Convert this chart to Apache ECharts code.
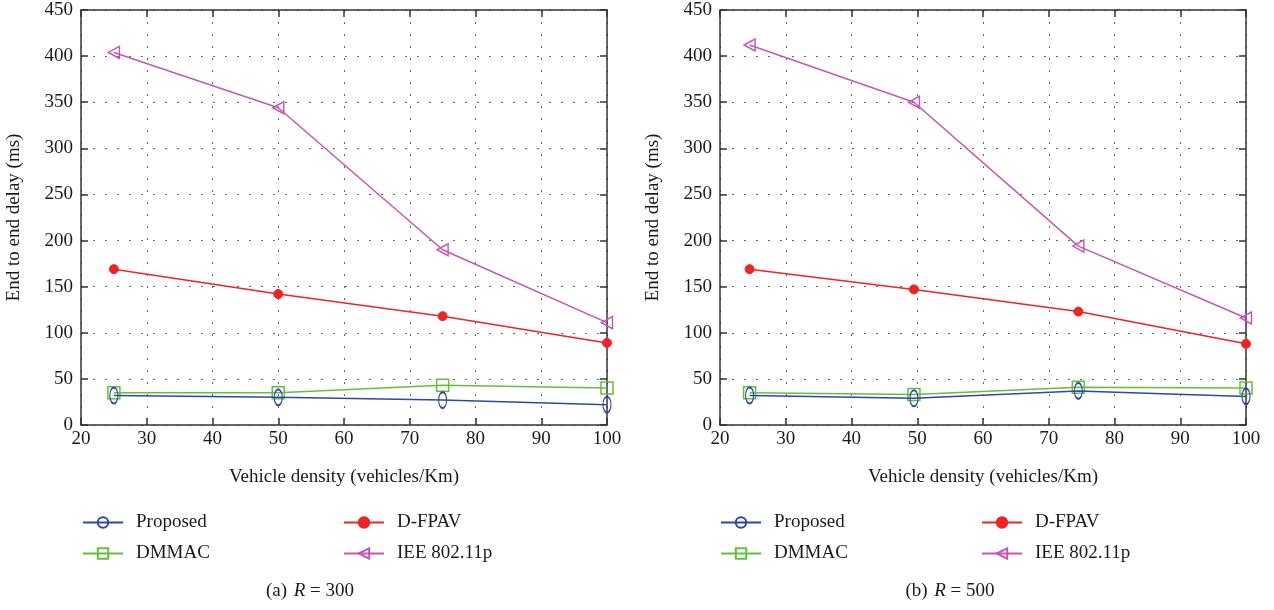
<!DOCTYPE html>
<html>
<head>
<meta charset="utf-8">
<script src="https://cdn.jsdelivr.net/npm/echarts@6/dist/echarts.min.js"></script>
<style>html,body{margin:0;padding:0;background:#fff;}#c{width:1274px;height:610px;}</style>
</head>
<body>
<div id="c"></div>
<script>
const seriesNames = ['Proposed', 'D-FPAV', 'DMMAC', 'IEE 802.11p'];
const xTicks = [20, 30, 40, 50, 60, 70, 80, 90, 100];
const yTicks = [0, 50, 100, 150, 200, 250, 300, 350, 400, 450];

// (a) R = 300
const xA = [25, 50, 75, 100];
const proposedA = [32, 30, 27, 22];
const dmmacA = [35, 35, 43, 40];
const dfpavA = [169, 142, 118, 89];
const ieeeA = [404, 344, 190, 111];

// (b) R = 500
const xB = [24.5, 49.5, 74.5, 100];
const proposedB = [32, 29, 37, 31];
const dmmacB = [35, 33, 41, 40];
const dfpavB = [169, 147, 123, 88];
const ieeeB = [412, 350, 194, 116];

const colors = {
  'Proposed': '#2f47a6',
  'D-FPAV': '#ee2424',
  'DMMAC': '#64bf3c',
  'IEE 802.11p': '#c457b6'
};
const symbols = {
  'Proposed': 'path://M5,0 C7.8,0 10,4.5 10,10 C10,15.5 7.8,20 5,20 C2.2,20 0,15.5 0,10 C0,4.5 2.2,0 5,0 Z',
  'D-FPAV': 'circle',
  'DMMAC': 'rect',
  'IEE 802.11p': 'path://M0,5.5 L10,0 L10,11 Z'
};
const symSize = {
  'Proposed': [8, 16],
  'D-FPAV': 9,
  'DMMAC': 12,
  'IEE 802.11p': [11, 12]
};

const FONT = 'Liberation Serif';
const TXT = '#1a1a1a';
const grids = [
  {left: 81, top: 10, width: 526, height: 415},
  {left: 720, top: 10, width: 526, height: 415}
];

function pairs(xs, ys) { return xs.map((x, i) => [x, ys[i]]); }

const xAxes = [], yAxes = [];
grids.forEach((g, gi) => {
  const dotted = {show: true, lineStyle: {color: '#666', type: [2, 10], width: 1}};
  xAxes.push({
    type: 'value', gridIndex: gi, min: 20, max: 100, interval: 10, position: 'bottom',
    name: 'Vehicle density (vehicles/Km)', nameLocation: 'middle', nameGap: 43,
    nameTextStyle: {fontFamily: FONT, fontSize: 19, color: TXT},
    axisLine: {show: true, onZero: false, lineStyle: {color: '#333', width: 1.5}},
    axisTick: {show: true, inside: true, length: 7, lineStyle: {color: '#333', width: 1.5}},
    axisLabel: {fontFamily: FONT, fontSize: 19, color: TXT, margin: 5,
      formatter: v => xTicks.includes(v) ? String(v) : ''},
    splitLine: dotted
  });
  xAxes.push({
    type: 'value', gridIndex: gi, min: 20, max: 100, interval: 10, position: 'top',
    axisLine: {show: true, onZero: false, lineStyle: {color: '#333', width: 1.5}},
    axisTick: {show: true, inside: true, length: 7, lineStyle: {color: '#333', width: 1.5}},
    axisLabel: {show: false}, splitLine: {show: false}
  });
  yAxes.push({
    type: 'value', gridIndex: gi, min: 0, max: 450, interval: 50, position: 'left',
    name: 'End to end delay (ms)', nameLocation: 'middle', nameGap: 57,
    nameTextStyle: {fontFamily: FONT, fontSize: 19, color: TXT},
    axisLine: {show: true, onZero: false, lineStyle: {color: '#333', width: 1.5}},
    axisTick: {show: true, inside: true, length: 7, lineStyle: {color: '#333', width: 1.5}},
    axisLabel: {fontFamily: FONT, fontSize: 19, color: TXT, margin: 8,
      formatter: v => yTicks.includes(v) ? String(v) : ''},
    splitLine: dotted
  });
  yAxes.push({
    type: 'value', gridIndex: gi, min: 0, max: 450, interval: 50, position: 'right',
    axisLine: {show: true, onZero: false, lineStyle: {color: '#333', width: 1.5}},
    axisTick: {show: true, inside: true, length: 7, lineStyle: {color: '#333', width: 1.5}},
    axisLabel: {show: false}, splitLine: {show: false}
  });
});

function mk(name, data, gi) {
  const c = colors[name];
  const filled = name === 'D-FPAV';
  return {
    name, type: 'line', data, xAxisIndex: gi * 2, yAxisIndex: gi * 2,
    symbol: symbols[name], symbolSize: symSize[name], showAllSymbol: true,
    lineStyle: {color: c, width: 1.5},
    itemStyle: filled ? {color: c, borderColor: c, borderWidth: 1}
                      : {color: 'rgba(255,255,255,0)', borderColor: c, borderWidth: 1.5},
    emphasis: {disabled: true}, animation: false, z: name === 'Proposed' ? 5 : 3
  };
}

const series = [
  mk('DMMAC', pairs(xA, dmmacA), 0),
  mk('Proposed', pairs(xA, proposedA), 0),
  mk('D-FPAV', pairs(xA, dfpavA), 0),
  mk('IEE 802.11p', pairs(xA, ieeeA), 0),
  mk('DMMAC', pairs(xB, dmmacB), 1),
  mk('Proposed', pairs(xB, proposedB), 1),
  mk('D-FPAV', pairs(xB, dfpavB), 1),
  mk('IEE 802.11p', pairs(xB, ieeeB), 1)
];

const legendPos = [
  {name: 'Proposed', dx: 0, top: 513},
  {name: 'D-FPAV', dx: 261, top: 513},
  {name: 'DMMAC', dx: 0, top: 544},
  {name: 'IEE 802.11p', dx: 261, top: 544}
];
const legends = [];
[82, 720].forEach(base => {
  legendPos.forEach(p => {
    legends.push({
      data: [p.name], left: base + p.dx, top: p.top, itemWidth: 40, itemHeight: 13,
      selectedMode: false, padding: 0,
      textStyle: {fontFamily: FONT, fontSize: 19, color: TXT, padding: [0, 0, 0, 8]}
    });
  });
});

const captions = [
  {x: 310, label: '(a)', val: '300'},
  {x: 950, label: '(b)', val: '500'}
].map(c => ({
  type: 'text', x: c.x, y: 591,
  style: {
    text: '{n|' + c.label + '}  {i|R}{n| = ' + c.val + '}',
    x: 0, y: 0, align: 'center', verticalAlign: 'middle',
    rich: {
      n: {fontFamily: FONT, fontSize: 19, fill: TXT},
      i: {fontFamily: FONT, fontSize: 19, fontStyle: 'italic', fill: TXT}
    }
  }
}));

const chart = echarts.init(document.getElementById('c'));
chart.setOption({
  animation: false,
  backgroundColor: '#fff',
  grid: grids,
  xAxis: xAxes,
  yAxis: yAxes,
  legend: legends,
  series,
  graphic: captions
});
</script>
</body>
</html>
